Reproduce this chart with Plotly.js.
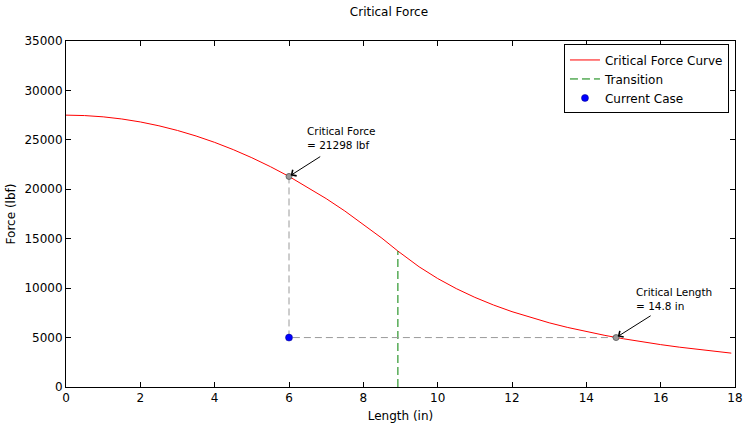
<!DOCTYPE html>
<html>
<head>
<meta charset="utf-8">
<script src="https://cdn.plot.ly/plotly-3.0.1.min.js"></script>
<style>html,body{margin:0;padding:0;background:#fff;}#chart{width:748px;height:429px;}</style>
</head>
<body>
<div id="chart"></div>
<script>
// Critical force curve
const lengthIn = [0, 0.5, 1, 1.5, 2, 2.5, 3, 3.5, 4, 4.5, 5, 5.5, 6, 6.5, 7, 7.5, 8, 8.5, 8.93,
  9, 9.5, 10, 10.5, 11, 11.5, 12, 12.5, 13, 13.5, 14, 14.5, 15, 15.5, 16, 16.5, 17, 17.5, 17.9];
const forceLbf = [27500, 27457, 27328, 27112, 26811, 26423, 25949, 25390, 24744, 24011, 23193, 22288, 21298, 20221, 19058, 17809, 16474, 15053, 13750,
  13548, 12160, 10974, 9954, 9069, 8298, 7621, 7023, 6494, 6021, 5599, 5220, 4877, 4568, 4287, 4031, 3797, 3583, 3425];
// Transition
const transitionX = [8.93, 8.93];
const transitionY = [0, 13750];
// Current case
const caseLength = 6;
const caseForce = 5000;
// Critical values
const critForce = 21298;
const critLength = 14.8;
const xTicks = [0, 2, 4, 6, 8, 10, 12, 14, 16, 18];
const yTicks = [0, 5000, 10000, 15000, 20000, 25000, 30000, 35000];

const traces = [
  {x: lengthIn, y: forceLbf, mode: 'lines', name: 'Critical Force Curve',
   line: {color: '#ff0000', width: 1}},
  {x: transitionX, y: transitionY, mode: 'lines', name: 'Transition',
   line: {color: '#008000', width: 1, dash: '8px,4px'}},
  {x: [caseLength, caseLength, critLength], y: [critForce, caseForce, caseForce], mode: 'lines',
   showlegend: false, line: {color: '#9a9a9a', width: 1, dash: '7px,4px'}},
  {x: [caseLength, critLength], y: [critForce, caseForce], mode: 'markers', showlegend: false,
   marker: {color: '#999999', size: 6, line: {color: '#555555', width: 0.8}}},
  {x: [caseLength], y: [caseForce], mode: 'markers', name: 'Current Case',
   marker: {color: '#0000ff', size: 7, line: {color: '#000080', width: 0.5}}}
];

const font = {family: 'DejaVu Sans', size: 12, color: '#000'};
const axisCommon = {
  showgrid: false, zeroline: false, showline: true, linecolor: '#000', linewidth: 1,
  mirror: 'allticks', ticks: 'inside', ticklen: 5, tickcolor: '#000', tickfont: font
};

const layout = {
  width: 748, height: 429,
  margin: {l: 66, r: 13, t: 41, b: 42},
  paper_bgcolor: '#fff', plot_bgcolor: '#fff',
  font: font,
  title: {text: 'Critical Force', font: {family: 'DejaVu Sans', size: 12}, x: 0.52, xanchor: 'center', y: 0.982, yanchor: 'top'},
  xaxis: Object.assign({}, axisCommon, {range: [0, 18], tickvals: xTicks, ticktext: xTicks.map(String),
    title: {text: 'Length (in)', font: font, standoff: 7}}),
  yaxis: Object.assign({}, axisCommon, {range: [0, 35000], tickvals: yTicks, ticktext: yTicks.map(String),
    title: {text: 'Force (lbf)', font: font, standoff: 6}}),
  showlegend: true,
  legend: {x: 0.991, xanchor: 'right', y: 0.99, yanchor: 'top', bgcolor: '#fff',
    bordercolor: '#000', borderwidth: 1, font: {family: 'DejaVu Sans', size: 12}, tracegroupgap: 0},
  annotations: [
    {x: caseLength, y: critForce, ax: 6.88, ay: 23400, axref: 'x', ayref: 'y', xref: 'x', yref: 'y',
     text: '', showarrow: true, arrowhead: 4, arrowsize: 1.4, arrowwidth: 1, arrowcolor: '#000', standoff: 2},
    {x: 6.43, y: 23650, xref: 'x', yref: 'y', xanchor: 'left', yanchor: 'bottom', showarrow: false,
     align: 'left', text: 'Critical Force<br>= ' + critForce + ' lbf', font: {family: 'DejaVu Sans', size: 10.5}},
    {x: critLength, y: caseForce, ax: 15.77, ay: 7300, axref: 'x', ayref: 'y', xref: 'x', yref: 'y',
     text: '', showarrow: true, arrowhead: 4, arrowsize: 1.4, arrowwidth: 1, arrowcolor: '#000', standoff: 2},
    {x: 15.28, y: 7400, xref: 'x', yref: 'y', xanchor: 'left', yanchor: 'bottom', showarrow: false,
     align: 'left', text: 'Critical Length<br>= ' + critLength + ' in', font: {family: 'DejaVu Sans', size: 10.5}}
  ]
};

Plotly.newPlot('chart', traces, layout, {displayModeBar: false, staticPlot: true});
</script>
</body>
</html>
